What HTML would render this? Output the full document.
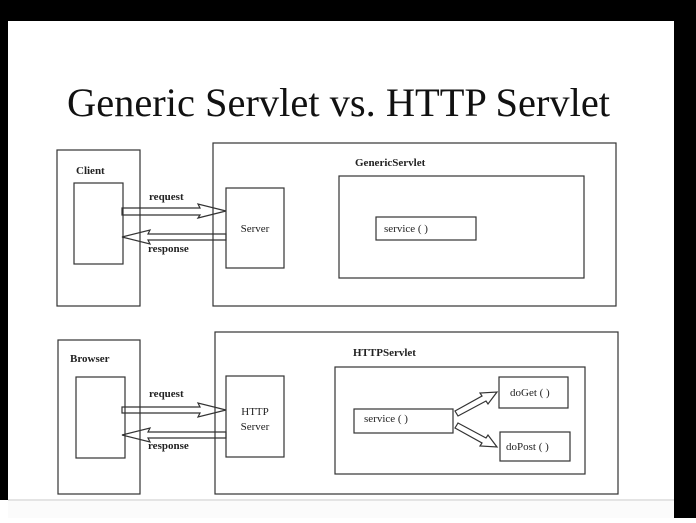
<!DOCTYPE html>
<html><head><style>
body{margin:0;width:696px;height:518px;overflow:hidden;background:#fff}
</style></head><body>
<svg width="696" height="518" xmlns="http://www.w3.org/2000/svg" font-family="Liberation Serif, serif">
<rect x="0" y="0" width="696" height="518" fill="#fff"/>
<rect x="0" y="0" width="696" height="21" fill="#000"/>
<rect x="0" y="0" width="8" height="500" fill="#000"/>
<rect x="674" y="0" width="22" height="518" fill="#000"/>
<rect x="8" y="499" width="666" height="2" fill="#e4e4e4"/>
<rect x="8" y="501" width="666" height="17" fill="#fbfbfb"/>
<text x="67" y="116" font-size="40" textLength="543" lengthAdjust="spacingAndGlyphs" fill="#111">Generic Servlet vs. HTTP Servlet</text>
<g fill="none" stroke="#333" stroke-width="1.2">
<rect x="57" y="150" width="83" height="156"/>
<rect x="74" y="183" width="49" height="81"/>
<rect x="213" y="143" width="403" height="163"/>
<rect x="226" y="188" width="58" height="80"/>
<rect x="339" y="176" width="245" height="102"/>
<rect x="376" y="217" width="100" height="23"/>
<polygon points="122,208 200,208 198,204 226,211 198,218 200,215 122,215"/>
<polygon points="226,234 148,234 150,230 122,237 150,244 148,240 226,240"/>
<rect x="58" y="340" width="82" height="154"/>
<rect x="76" y="377" width="49" height="81"/>
<rect x="215" y="332" width="403" height="162"/>
<rect x="226" y="376" width="58" height="81"/>
<rect x="335" y="367" width="250" height="107"/>
<rect x="354" y="409" width="99" height="24"/>
<rect x="499" y="377" width="69" height="31"/>
<rect x="500" y="432" width="70" height="29"/>
<polygon points="122,407 200,407 198,403 226,410 198,417 200,413 122,413"/>
<polygon points="226,432 148,432 150,428 122,435 150,442 148,438 226,438"/>
<polygon points="455,411 482,396 480,393 497,392 488,404 486,401 458,416"/>
<polygon points="455,428 482,443 480,446 497,447 488,435 486,438 458,423"/>
</g>
<g fill="#222" font-size="11">
<text x="76" y="174" font-weight="bold">Client</text>
<text x="149" y="200" font-weight="bold">request</text>
<text x="148" y="252" font-weight="bold">response</text>
<text x="255" y="232" text-anchor="middle">Server</text>
<text x="355" y="166" font-weight="bold">GenericServlet</text>
<text x="384" y="232">service ( )</text>
<text x="70" y="362" font-weight="bold">Browser</text>
<text x="149" y="397" font-weight="bold">request</text>
<text x="148" y="449" font-weight="bold">response</text>
<text x="255" y="415" text-anchor="middle">HTTP</text>
<text x="255" y="430" text-anchor="middle">Server</text>
<text x="353" y="356" font-weight="bold">HTTPServlet</text>
<text x="364" y="422">service ( )</text>
<text x="510" y="396">doGet ( )</text>
<text x="506" y="450">doPost ( )</text>
</g>
</svg>
</body></html>
